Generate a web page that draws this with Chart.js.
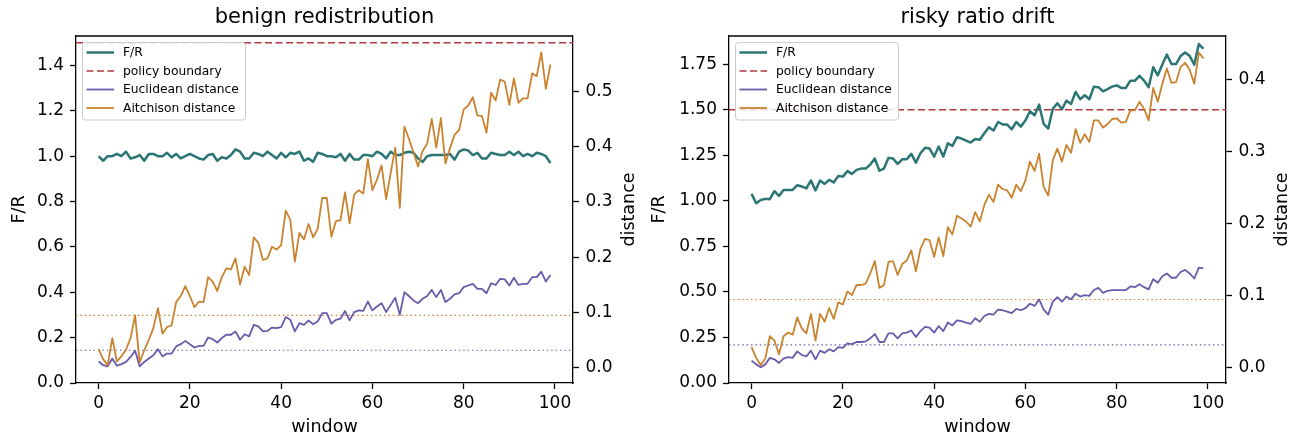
<!DOCTYPE html>
<html>
<head>
<meta charset="utf-8">
<script src="https://cdn.jsdelivr.net/npm/chart.js@4.4.0/dist/chart.umd.min.js"></script>
<style>
    body { margin: 0; background: #fff; width: 1294px; height: 438px; overflow: hidden; position: relative; }
    .panel { position: absolute; top: 0; width: 647px; height: 438px; }
</style>
</head>
<body>
<div class="panel" style="left:0"><canvas id="benignChart"></canvas></div>
<div class="panel" style="left:647px"><canvas id="riskyChart"></canvas></div>
<script>
// --- data ---
const windowIndex = [...Array(100).keys()];

const policyBoundary = 1.5;
const euclidThreshold = 0.032;
const aitchisonThreshold = 0.095;

const benignFR = [
    1.00, 0.98, 1.00, 1.00, 1.01, 1.00, 1.02, 0.99, 0.995, 1.005,
    0.98, 1.01, 1.01, 1.00, 1.00, 1.015, 0.995, 1.01, 0.99, 1.00,
    1.01, 1.00, 0.99, 0.985, 1.005, 1.01, 0.98, 0.995, 0.99, 1.005,
    1.03, 1.02, 0.99, 0.99, 1.015, 1.01, 1.00, 1.02, 1.005, 0.99,
    1.015, 0.995, 1.015, 1.01, 1.02, 0.98, 0.99, 0.975, 1.015, 1.01,
    1.00, 1.00, 0.995, 1.01, 0.98, 1.01, 0.985, 0.985, 1.005, 1.005,
    1.00, 1.02, 1.01, 0.99, 1.02, 1.005, 1.005, 1.015, 1.02, 1.015,
    0.99, 0.975, 1.00, 1.005, 1.005, 1.005, 1.005, 1.01, 0.985, 1.02,
    1.03, 1.025, 1.005, 1.015, 0.99, 0.99, 1.015, 1.01, 1.005, 1.005,
    1.02, 1.005, 1.02, 1.00, 1.01, 1.00, 1.015, 1.01, 1.00, 0.97
];
const benignEuclid = [
    0.012, 0.005, 0.003, 0.017, 0.004, 0.007, 0.011, 0.020, 0.031, 0.003,
    0.011, 0.017, 0.023, 0.034, 0.021, 0.026, 0.026, 0.039, 0.043, 0.049,
    0.043, 0.037, 0.040, 0.040, 0.055, 0.052, 0.046, 0.054, 0.060, 0.060,
    0.066, 0.051, 0.061, 0.057, 0.078, 0.075, 0.066, 0.067, 0.073, 0.072,
    0.074, 0.092, 0.087, 0.066, 0.081, 0.078, 0.086, 0.079, 0.084, 0.099,
    0.099, 0.080, 0.087, 0.089, 0.103, 0.086, 0.101, 0.104, 0.103, 0.120,
    0.104, 0.111, 0.117, 0.101, 0.114, 0.127, 0.096, 0.137, 0.130, 0.122,
    0.117, 0.125, 0.130, 0.141, 0.128, 0.141, 0.119, 0.125, 0.133, 0.135,
    0.146, 0.149, 0.152, 0.143, 0.143, 0.135, 0.153, 0.150, 0.161, 0.160,
    0.149, 0.163, 0.150, 0.152, 0.152, 0.164, 0.164, 0.174, 0.156, 0.168
];
const benignAitchison = [
    0.034, 0.016, 0.005, 0.054, 0.012, 0.021, 0.033, 0.054, 0.095, 0.010,
    0.032, 0.051, 0.072, 0.108, 0.062, 0.074, 0.077, 0.119, 0.130, 0.148,
    0.130, 0.110, 0.120, 0.119, 0.164, 0.156, 0.139, 0.164, 0.180, 0.178,
    0.198, 0.151, 0.183, 0.168, 0.236, 0.226, 0.195, 0.198, 0.219, 0.214,
    0.222, 0.284, 0.268, 0.192, 0.244, 0.232, 0.260, 0.236, 0.251, 0.307,
    0.307, 0.237, 0.265, 0.267, 0.317, 0.261, 0.313, 0.321, 0.315, 0.377,
    0.321, 0.340, 0.366, 0.305, 0.352, 0.398, 0.289, 0.436, 0.414, 0.389,
    0.364, 0.392, 0.405, 0.450, 0.398, 0.451, 0.369, 0.397, 0.421, 0.430,
    0.467, 0.474, 0.489, 0.456, 0.455, 0.425, 0.497, 0.483, 0.521, 0.517,
    0.475, 0.523, 0.479, 0.487, 0.487, 0.532, 0.527, 0.570, 0.504, 0.548
];

const riskyFR = [
    1.038, 0.987, 1.005, 1.011, 1.009, 1.053, 1.027, 1.060, 1.060, 1.060,
    1.086, 1.079, 1.068, 1.112, 1.057, 1.112, 1.093, 1.115, 1.101, 1.137,
    1.133, 1.163, 1.148, 1.170, 1.177, 1.177, 1.199, 1.232, 1.166, 1.177,
    1.236, 1.232, 1.203, 1.228, 1.228, 1.258, 1.210, 1.261, 1.291, 1.287,
    1.243, 1.298, 1.243, 1.316, 1.302, 1.349, 1.342, 1.331, 1.320, 1.340,
    1.335, 1.371, 1.404, 1.386, 1.433, 1.419, 1.419, 1.393, 1.433, 1.408,
    1.441, 1.492, 1.470, 1.528, 1.422, 1.397, 1.506, 1.536, 1.503, 1.550,
    1.532, 1.598, 1.558, 1.580, 1.558, 1.627, 1.624, 1.601, 1.613, 1.627,
    1.634, 1.620, 1.620, 1.660, 1.660, 1.686, 1.660, 1.624, 1.733, 1.689,
    1.748, 1.803, 1.751, 1.751, 1.795, 1.814, 1.795, 1.748, 1.861, 1.835
];
const riskyEuclid = [
    0.010, 0.005, 0.001, 0.005, 0.014, 0.012, 0.007, 0.013, 0.015, 0.014,
    0.023, 0.018, 0.016, 0.024, 0.012, 0.024, 0.021, 0.026, 0.023, 0.029,
    0.028, 0.034, 0.033, 0.036, 0.036, 0.037, 0.041, 0.047, 0.036, 0.036,
    0.048, 0.048, 0.041, 0.048, 0.049, 0.052, 0.043, 0.051, 0.057, 0.056,
    0.049, 0.058, 0.051, 0.063, 0.059, 0.066, 0.065, 0.063, 0.061, 0.069,
    0.064, 0.072, 0.075, 0.074, 0.081, 0.080, 0.078, 0.076, 0.082, 0.080,
    0.083, 0.089, 0.086, 0.095, 0.081, 0.074, 0.092, 0.098, 0.092, 0.099,
    0.095, 0.103, 0.099, 0.101, 0.100, 0.108, 0.111, 0.104, 0.107, 0.108,
    0.108, 0.108, 0.108, 0.113, 0.112, 0.116, 0.112, 0.109, 0.123, 0.118,
    0.127, 0.131, 0.125, 0.125, 0.133, 0.136, 0.131, 0.124, 0.139, 0.138
];
const riskyAitchison = [
    0.029, 0.014, 0.004, 0.013, 0.044, 0.038, 0.019, 0.044, 0.049, 0.046,
    0.070, 0.055, 0.048, 0.075, 0.038, 0.075, 0.064, 0.083, 0.068, 0.091,
    0.088, 0.106, 0.101, 0.115, 0.115, 0.117, 0.131, 0.148, 0.111, 0.115,
    0.147, 0.148, 0.129, 0.144, 0.149, 0.163, 0.134, 0.165, 0.179, 0.177,
    0.154, 0.181, 0.155, 0.195, 0.185, 0.211, 0.207, 0.203, 0.196, 0.216,
    0.203, 0.226, 0.240, 0.230, 0.254, 0.248, 0.246, 0.236, 0.254, 0.245,
    0.260, 0.286, 0.273, 0.297, 0.251, 0.239, 0.288, 0.304, 0.286, 0.309,
    0.298, 0.331, 0.312, 0.324, 0.313, 0.343, 0.343, 0.333, 0.338, 0.345,
    0.346, 0.340, 0.341, 0.357, 0.357, 0.369, 0.359, 0.343, 0.388, 0.369,
    0.394, 0.415, 0.395, 0.396, 0.417, 0.423, 0.413, 0.394, 0.437, 0.429
];

// --- look ---
const INK = '#000000';
const TEAL = '#2b7574';
const RED = '#b2383d';
const PURPLE = '#6c5aab';
const ORANGE = '#c9832f';
const X_MIN = -4.95, X_MAX = 103.95;

Chart.defaults.font.family = "'DejaVu Sans', sans-serif";
Chart.defaults.color = INK;

const toPoints = (values) => windowIndex.map((w, i) => ({ x: w, y: values[i] }));
const hLine = (value) => [{ x: X_MIN, y: value }, { x: X_MAX, y: value }];

// legend box drawn inside the plot, over the lines, like matplotlib's framed legend
const frameLegend = {
    id: 'frameLegend',
    afterDatasetsDraw(chart) {
        const ctx = chart.ctx;
        const { left, top, right } = chart.chartArea;
        const items = chart.data.datasets.filter(d => d.inLegend);
        const x0 = left + 6.5, y0 = top + 6.5, w = 163, h = 77.5, r = 3;

        ctx.save();
        // top spine (chart.js only draws left/right/bottom borders)
        ctx.strokeStyle = INK;
        ctx.lineWidth = 1.3;
        ctx.beginPath();
        ctx.moveTo(left, top);
        ctx.lineTo(right, top);
        ctx.stroke();

        ctx.beginPath();
        ctx.roundRect(x0, y0, w, h, r);
        ctx.fillStyle = 'rgba(255,255,255,0.8)';
        ctx.fill();
        ctx.strokeStyle = '#cccccc';
        ctx.lineWidth = 1;
        ctx.stroke();

        ctx.font = "12.3px 'DejaVu Sans'";
        ctx.textBaseline = 'middle';
        items.forEach((d, i) => {
            const y = y0 + 10 + i * 18.5;
            ctx.strokeStyle = d.borderColor;
            ctx.lineWidth = d.borderWidth;
            ctx.setLineDash(d.borderDash || []);
            ctx.beginPath();
            ctx.moveTo(x0 + 4, y);
            ctx.lineTo(x0 + 31.5, y);
            ctx.stroke();
            ctx.setLineDash([]);
            ctx.fillStyle = INK;
            ctx.fillText(d.label, x0 + 40.5, y + 0.5);
        });
        ctx.restore();
    },
    afterDraw(chart) {
        // right-hand axis label reads bottom-to-top, as in matplotlib
        const ctx = chart.ctx;
        const { right, top, bottom } = chart.chartArea;
        ctx.save();
        ctx.translate(right + 56, (top + bottom) / 2);
        ctx.rotate(-Math.PI / 2);
        ctx.font = "17.5px 'DejaVu Sans'";
        ctx.fillStyle = INK;
        ctx.textAlign = 'center';
        ctx.textBaseline = 'middle';
        ctx.fillText('distance', 0, 0);
        ctx.restore();
    }
};

function axisStyle(extra) {
    return Object.assign({
        grid: { drawOnChartArea: false, drawTicks: true, tickLength: 6, tickWidth: 1.3, tickColor: INK },
        border: { display: true, color: INK, width: 1.3 }
    }, extra);
}

function makePanel(canvasId, title, fr, euclid, aitchison, cfg) {
    const canvas = document.getElementById(canvasId);
    return new Chart(canvas.getContext('2d'), {
        type: 'line',
        data: {
            datasets: [
                { label: 'F/R', inLegend: true, data: toPoints(fr), yAxisID: 'y',
                  borderColor: TEAL, borderWidth: 2.5, order: 3 },
                { label: 'policy boundary', inLegend: true, data: hLine(policyBoundary), yAxisID: 'y',
                  borderColor: RED, borderWidth: 1.6, borderDash: [7, 3.5], order: 4 },
                { label: 'Euclidean distance', inLegend: true, data: toPoints(euclid), yAxisID: 'y1',
                  borderColor: PURPLE, borderWidth: 1.8, order: 1 },
                { label: 'Aitchison distance', inLegend: true, data: toPoints(aitchison), yAxisID: 'y1',
                  borderColor: ORANGE, borderWidth: 1.8, order: 0 },
                { label: '', data: hLine(euclidThreshold), yAxisID: 'y1',
                  borderColor: PURPLE, borderWidth: 1.1, borderDash: [1.5, 2.9], order: 2 },
                { label: '', data: hLine(aitchisonThreshold), yAxisID: 'y1',
                  borderColor: ORANGE, borderWidth: 1.1, borderDash: [1.5, 2.9], order: 2 }
            ]
        },
        options: {
            responsive: true,
            maintainAspectRatio: false,
            animation: false,
            events: [],
            devicePixelRatio: 1,
            elements: {
                point: { radius: 0 },
                line: { tension: 0, borderJoinStyle: 'round', fill: false }
            },
            layout: { padding: 0 },
            plugins: {
                legend: { display: false },
                tooltip: { enabled: false },
                title: {
                    display: true, text: title, fullSize: false, color: INK,
                    font: { size: 21, weight: 'normal' },
                    padding: { top: 5, bottom: 5.8 }
                }
            },
            scales: {
                x: axisStyle({
                    type: 'linear', position: 'bottom', min: X_MIN, max: X_MAX,
                    ticks: { stepSize: 20, includeBounds: false, padding: 4, maxRotation: 0, font: { size: 17 } },
                    title: { display: true, text: 'window', font: { size: 17.5 }, padding: 0 },
                    afterFit: (s) => { s.height = 55; }
                }),
                y: axisStyle({
                    type: 'linear', position: 'left', min: 0, max: cfg.frMax,
                    ticks: { stepSize: cfg.frStep, includeBounds: false, padding: 6, font: { size: 17 },
                             callback: (v) => v.toFixed(cfg.frDigits) },
                    title: { display: true, text: 'F/R', font: { size: 17.5 }, padding: { top: cfg.frTitlePad } },
                    afterFit: (s) => { s.width = cfg.leftW; }
                }),
                y1: axisStyle({
                    type: 'linear', position: 'right', min: cfg.dMin, max: cfg.dMax,
                    ticks: { stepSize: 0.1, includeBounds: false, padding: 6.5, font: { size: 17 },
                             callback: (v) => v.toFixed(1) },
                    afterFit: (s) => { s.width = cfg.rightW; }
                })
            }
        },
        plugins: [frameLegend]
    });
}

makePanel('benignChart', 'benign redistribution', benignFR, benignEuclid, benignAitchison, {
    frMax: 1.53, frStep: 0.2, frDigits: 1, frTitlePad: 8.5,
    dMin: -0.0271, dMax: 0.5995, leftW: 76, rightW: 74
});
makePanel('riskyChart', 'risky ratio drift', riskyFR, riskyEuclid, riskyAitchison, {
    frMax: 1.905, frStep: 0.25, frDigits: 2, frTitlePad: 2,
    dMin: -0.0208, dMax: 0.460, leftW: 82, rightW: 68
});
</script>
</body>
</html>
